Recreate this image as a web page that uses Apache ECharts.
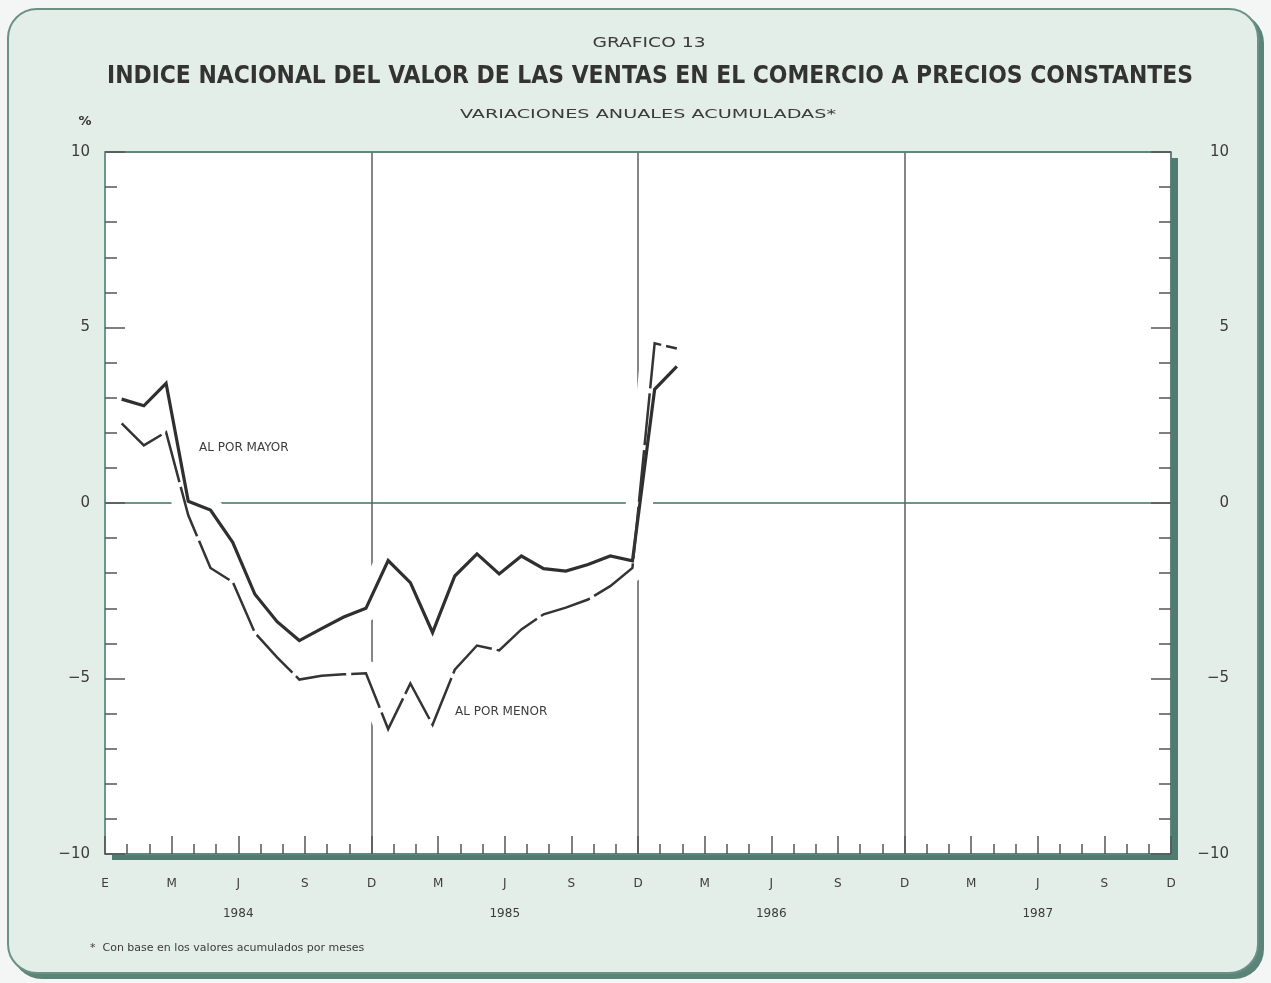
<!DOCTYPE html>
<html><head><meta charset="utf-8">
<script src="https://cdn.jsdelivr.net/npm/echarts@6/dist/echarts.min.js"></script>
<style>
html,body{margin:0;padding:0;background:#f3f6f4;}
#frame{position:absolute;left:7px;top:8px;width:1248px;height:962px;border:2px solid #6b9086;border-radius:30px;background:#e4eee9;box-shadow:5px 5px 0 #5b8378;}
#c{position:absolute;left:0;top:0;width:1271px;height:983px;}
</style>
</head><body><div id="frame"></div><div id="c"></div>
<script>
// ---- data (Jan 1984 .. Feb 1986, month numbers counted from Jan 1984 = 1)
const monthNum = [1,2,3,4,5,6,7,8,9,10,11,12,13,14,15,16,17,18,19,20,21,22,23,24,25,26];
const alPorMayor = [2.96,2.77,3.41,0.05,-0.20,-1.12,-2.60,-3.38,-3.92,-3.58,-3.25,-3.00,
                    -1.64,-2.27,-3.69,-2.08,-1.45,-2.02,-1.51,-1.87,-1.94,-1.75,-1.51,-1.65,
                    3.24,3.89];
const alPorMenor = [2.27,1.64,2.02,-0.35,-1.85,-2.25,-3.70,-4.40,-5.03,-4.92,-4.88,-4.85,
                    -6.44,-5.14,-6.32,-4.75,-4.06,-4.20,-3.60,-3.17,-2.98,-2.75,-2.37,-1.85,
                    4.55,4.40];
const xTickLabels = ['E','M','J','S','D','M','J','S','D','M','J','S','D','M','J','S','D'];
const yearLabels = ['1984','1985','1986','1987'];
const yTickLabels = {'-10':'\u221210','-5':'\u22125','0':'0','5':'5','10':'10'};

const PT_SHIFT = 0.25; // values plotted slightly before month end
function pairs(vals){ return vals.map((v,i)=>[monthNum[i]-PT_SHIFT, v]); }

function fitScale(text, font, target){
  const c = document.createElement('canvas').getContext('2d');
  c.font = font; return target / c.measureText(text).width;
}
const TXT = '#3b3b3b';
const titleText = 'INDICE NACIONAL DEL VALOR DE LAS VENTAS EN EL COMERCIO A PRECIOS CONSTANTES';
const titleFont = "bold 24px 'Liberation Sans Narrow','DejaVu Sans Condensed',sans-serif";
const subText = 'VARIACIONES ANUALES ACUMULADAS*';
const subFont = "13px 'Liberation Sans Narrow','DejaVu Sans Condensed',sans-serif";
const gfText = 'GRAFICO 13';
const gfFont = "14px 'Liberation Sans Narrow','DejaVu Sans Condensed',sans-serif";

const chart = echarts.init(document.getElementById('c'));
const labelFont = "'DejaVu Sans',sans-serif";
const BORDER = '#5a8379';
const TICK = '#555';

const option = {
  animation:false,
  backgroundColor:'transparent',
  grid:{left:105,right:100,top:152,bottom:129,show:true,backgroundColor:'#ffffff',
        borderWidth:0,shadowColor:'#4f7b70',shadowOffsetX:7,shadowOffsetY:6,shadowBlur:0},
  xAxis:[
    {type:'value',min:0,max:48,interval:3,position:'bottom',z:5,
     axisLine:{show:true,onZero:false,lineStyle:{color:BORDER,width:1.5}},
     axisTick:{show:true,inside:true,length:18,lineStyle:{color:TICK,width:1.5}},
     minorTick:{show:true,splitNumber:3,length:10,lineStyle:{color:TICK,width:1.5}},
     axisLabel:{margin:24,color:TXT,fontSize:12,fontFamily:labelFont,
       formatter:v=>xTickLabels[Math.round(v/3)] || ''},
     splitLine:{show:false}},
    {type:'value',min:0,max:48,interval:6,position:'bottom',z:5,
     axisLine:{show:false,onZero:false},axisTick:{show:false},splitLine:{show:false},
     axisLabel:{margin:54,color:TXT,fontSize:12,fontFamily:labelFont,
       formatter:v=>(v%12===6)?yearLabels[(v-6)/12]:''}},
    {type:'value',min:0,max:48,interval:12,position:'top',z:0,
     axisLine:{show:true,onZero:false,lineStyle:{color:BORDER,width:1.5}},
     axisTick:{show:false},axisLabel:{show:false},
     splitLine:{show:true,lineStyle:{color:'#5e5e5e',width:1.5}}}
  ],
  yAxis:[
    {type:'value',min:-10,max:10,interval:5,position:'left',z:5,
     axisLine:{show:true,onZero:false,lineStyle:{color:'#6d958b',width:2}},
     axisTick:{show:true,inside:true,length:20,lineStyle:{color:TICK,width:1.5}},
     minorTick:{show:true,splitNumber:5,length:12,lineStyle:{color:TICK,width:1.5}},
     axisLabel:{margin:15,color:TXT,fontSize:15,fontFamily:labelFont,formatter:v=>yTickLabels[v]},
     splitLine:{show:false}},
    {type:'value',min:-10,max:10,interval:5,position:'right',z:5,
     axisLine:{show:true,onZero:false,lineStyle:{color:BORDER,width:1.5}},
     axisTick:{show:true,inside:true,length:20,lineStyle:{color:TICK,width:1.5}},
     minorTick:{show:true,splitNumber:5,length:12,lineStyle:{color:TICK,width:1.5}},
     axisLabel:{margin:58,align:'right',color:TXT,fontSize:15,fontFamily:labelFont,formatter:v=>yTickLabels[v]},
     splitLine:{show:false}},
    {type:'value',min:-10,max:10,interval:10,position:'left',z:0,
     axisLine:{show:false,onZero:false},axisTick:{show:false},axisLabel:{show:false},
     splitLine:{show:true,lineStyle:{color:'#6d968b',width:2}}}
  ],
  series:[
    {type:'line',name:'haloMayor',data:pairs(alPorMayor),symbol:'none',silent:true,z:1,
     lineStyle:{color:'#ffffff',width:26,cap:'round',join:'round'}},
    {type:'line',name:'haloMenor',data:pairs(alPorMenor),symbol:'none',silent:true,z:1,
     lineStyle:{color:'#ffffff',width:26,cap:'round',join:'round'}},
    {type:'line',name:'AL POR MAYOR',data:pairs(alPorMayor),symbol:'none',z:3,
     lineStyle:{color:'#2f2f2f',width:3.2,join:'miter'}},
    {type:'line',name:'AL POR MENOR',data:pairs(alPorMenor),symbol:'none',z:3,
     lineStyle:{color:'#343434',width:2.5,join:'miter',type:[52,5]}}
  ],
  graphic:[
    {type:'text',x:649,y:43,scaleX:fitScale(gfText,gfFont,113),
     style:{text:gfText,font:gfFont,fill:TXT,align:'center',verticalAlign:'middle'}},
    {type:'text',x:650,y:77,scaleX:fitScale(titleText,titleFont,1086),
     style:{text:titleText,font:titleFont,fill:'#333',align:'center',verticalAlign:'middle'}},
    {type:'text',x:648,y:115,scaleX:fitScale(subText,subFont,376),
     style:{text:subText,font:subFont,fill:TXT,align:'center',verticalAlign:'middle'}},
    {type:'text',x:85,y:122,style:{text:'%',font:"bold 13px 'DejaVu Sans',sans-serif",fill:'#333',align:'center',verticalAlign:'middle'}},
    {type:'text',x:199,y:448,z:10,style:{text:'AL POR MAYOR',font:"12px 'DejaVu Sans',sans-serif",fill:TXT,align:'left',verticalAlign:'middle'}},
    {type:'text',x:455,y:712,z:10,style:{text:'AL POR MENOR',font:"12px 'DejaVu Sans',sans-serif",fill:TXT,align:'left',verticalAlign:'middle'}},
    {type:'text',x:90,y:948,style:{text:'*  Con base en los valores acumulados por meses',font:"11px 'DejaVu Sans',sans-serif",fill:TXT,align:'left',verticalAlign:'middle'}}
  ]
};
chart.setOption(option);
</script>
</body></html>
